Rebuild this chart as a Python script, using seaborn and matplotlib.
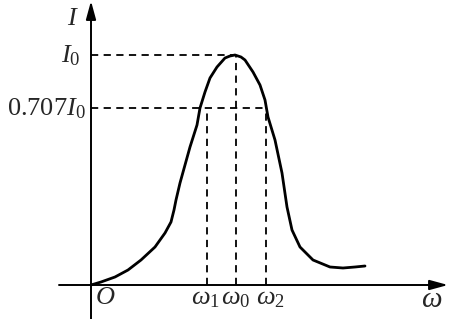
import matplotlib
matplotlib.use("Agg")
import matplotlib.pyplot as plt
import seaborn as sns
import pandas as pd

# Data (in drawing units: omega to the right, I upward, origin at O)
omega = [0, 10, 24, 37, 50, 64, 74, 80, 83, 85, 89, 99, 106, 109, 114, 119, 126, 134,
         139, 144, 150, 154, 162, 169, 174, 177, 184, 191, 196, 201, 209, 222, 239, 252, 264, 274]
current = [0, 3, 8, 15, 25, 38, 52, 63, 75, 85, 102, 138, 160, 177, 193, 207, 218, 227,
           229, 230, 228, 225, 213, 200, 185, 168, 145, 112, 78, 55, 38, 25, 18, 17, 18, 19]
I0 = 230
I707 = 177
w1, w0, w2 = 116, 145, 175
y_labels = ["$I_0$", "0.707$I_0$"]
x_labels = ["$\\omega_1$", "$\\omega_0$", "$\\omega_2$"]

sns.set_style("white")
plt.rcParams["font.family"] = ["Liberation Serif", "DejaVu Serif"]
plt.rcParams["mathtext.fontset"] = "custom"
plt.rcParams["mathtext.rm"] = "Liberation Serif"
plt.rcParams["mathtext.it"] = "Liberation Serif:italic"

fig = plt.figure(figsize=(4.5, 3.19), dpi=100)
ax = fig.add_axes([0, 0, 1, 1])
ax.set_xlim(-91, 359)
ax.set_ylim(-34, 285)
ax.axis("off")

df = pd.DataFrame({"omega": omega, "I": current})
sns.lineplot(data=df, x="omega", y="I", ax=ax, color="black", lw=2.0, sort=False)
ax.lines[-1].set_solid_joinstyle("round")

dash = dict(color="black", lw=1.3, ls=(0, (4, 3)))
ax.plot([0, w0], [I0, I0], **dash)
ax.plot([0, w2], [I707, I707], **dash)
ax.plot([w1, w1], [0, I707], **dash)
ax.plot([w0, w0], [0, I0], **dash)
ax.plot([w2, w2], [0, I707], **dash)

# axes with arrows
arrow = dict(arrowstyle="-|>,head_length=1.1,head_width=0.3",
             color="black", lw=1.4, shrinkA=0, shrinkB=0)
ax.annotate("", xy=(357, 0), xytext=(-32, 0), arrowprops=arrow)
ax.annotate("", xy=(0, 284), xytext=(0, -34), arrowprops=arrow)

fs = 19
ax.text(-12, 266, "$I$", fontsize=fs, ha="right", va="center")
ax.text(-10, I0 - 1, y_labels[0], fontsize=fs, ha="right", va="center")
ax.text(-5, I707 - 1, y_labels[1], fontsize=fs, ha="right", va="center")
ax.text(14, -13, "$O$", fontsize=fs, ha="center", va="center")
for xv, lab in zip([w1 - 2, w0, w2 + 4], x_labels):
    ax.text(xv, -14, lab, fontsize=fs, ha="center", va="center")
ax.text(341, -15, "$\\omega$", fontsize=fs + 2, ha="center", va="center")

fig.savefig("out.png", dpi=100)
